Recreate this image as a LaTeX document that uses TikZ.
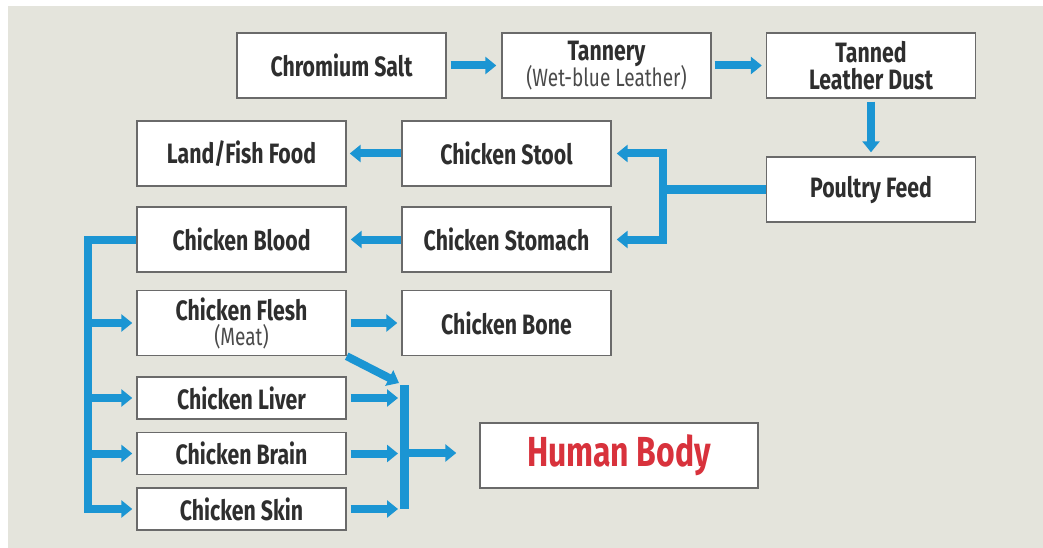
\documentclass[tikz,border=0pt]{standalone}
\usepackage{fontspec}
\setmainfont{Fira Sans}[FakeStretch=0.76]
\usetikzlibrary{arrows.meta}
\definecolor{bg}{HTML}{E4E4DC}
\definecolor{blu}{HTML}{1B95D3}
\definecolor{edge}{HTML}{6A6A6A}
\definecolor{txt}{HTML}{2E2E2E}
\definecolor{subc}{HTML}{4A4A4A}
\definecolor{hred}{HTML}{D8323C}
\newcommand\subtxt[1]{{\fontsize{25}{26}\selectfont\mdseries\color{subc}#1}}
\begin{document}
\begin{tikzpicture}[x=1pt,y=-1pt,
  box/.style={draw=edge,line width=1.4pt,fill=white,inner sep=0pt,text=txt,
    font=\fontsize{28}{27}\selectfont\bfseries,align=center},
  wide/.style={box,minimum width=209pt,minimum height=65pt},
  small/.style={box,minimum width=209pt,minimum height=42pt},
  line/.style={blu,line width=8pt},
  arr/.style={line,-{Triangle[width=17pt,length=11pt]}},
  dbl/.style={line,{Triangle[width=17pt,length=11pt]}-{Triangle[width=17pt,length=11pt]}}]
\useasboundingbox (0,0) rectangle (1043,548);
\fill[white] (0,0) rectangle (1043,548);
\fill[bg] (8,6) rectangle (1043,548);
% top row
\node[wide] (cs) at (341.5,65.5) {Chromium Salt};
\node[wide] (tan) at (606.5,65.5) {Tannery\\[-2pt]\subtxt{(Wet-blue Leather)}};
\node[wide] (tld) at (871,65.5) {Tanned\\Leather Dust};
\node[wide] (pf) at (871,189.5) {Poultry Feed};
% middle
\node[wide] (stool) at (506.5,153.5) {Chicken Stool};
\node[wide] (stom) at (506.5,239.5) {Chicken Stomach};
\node[wide] (land) at (241.5,153.5) {Land/Fish Food};
\node[wide] (blood) at (241.5,239.5) {Chicken Blood};
\node[wide] (flesh) at (241.5,323) {Chicken Flesh\\[-2pt]\subtxt{(Meat)}};
\node[wide] (bone) at (506.5,323) {Chicken Bone};
\node[small] (liver) at (241.5,398) {Chicken Liver};
\node[small] (brain) at (241.5,453.5) {Chicken Brain};
\node[small] (skin) at (241.5,509) {Chicken Skin};
\node[box,minimum width=278pt,minimum height=65pt,text=hred,
  font=\fontsize{42}{44}\selectfont\bfseries] (hum) at (619,455.5) {Human Body};
% coordinates
\coordinate (pj) at (663,189.5);
\coordinate (bx) at (88,400);
\coordinate (bt) at (404.5,385);
\coordinate (hb) at (404.5,453);
\coordinate (dg) at (399,383);
% connectors
\draw[arr,shorten <=4pt,shorten >=5pt] (cs.east) -- (tan.west);
\draw[arr,shorten <=3pt,shorten >=4pt] (tan.east) -- (tld.west);
\draw[arr,shorten <=3pt,shorten >=4pt] (tld.south) -- (pf.north);
\draw[line] (pf.west) -- (pj);
\draw[dbl,shorten <=5pt,shorten >=5pt] (stool.east) -| (pj) |- (stom.east);
\draw[arr,shorten >=3pt] (stool.west) -- (land.east);
\draw[arr,shorten >=4pt] (stom.west) -- (blood.east);
\draw[arr,shorten >=4pt] (blood.west) -| (bx) |- (skin.west);
\draw[arr,shorten >=4pt] (bx |- flesh.west) -- (flesh.west);
\draw[arr,shorten >=4pt] (bx |- liver.west) -- (liver.west);
\draw[arr,shorten >=4pt] (bx |- brain.west) -- (brain.west);
\draw[arr,shorten <=4pt,shorten >=4pt] (flesh.east) -- (bone.west);
\draw[arr] (flesh.south east) -- (dg);
\draw[arr,shorten <=4pt,shorten >=6.5pt] (liver.east) -- (liver.east -| bt);
\draw[arr,shorten <=4pt,shorten >=6.5pt] (brain.east) -- (brain.east -| bt);
\draw[arr,shorten <=4pt,shorten >=6.5pt] (skin.east) -- (skin.east -| bt);
\draw[line,line width=9pt] (bt) -- (bt |- skin.east);
\draw[arr,shorten >=23pt] (hb) -- (hb -| hum.west);
\end{tikzpicture}
\end{document}
